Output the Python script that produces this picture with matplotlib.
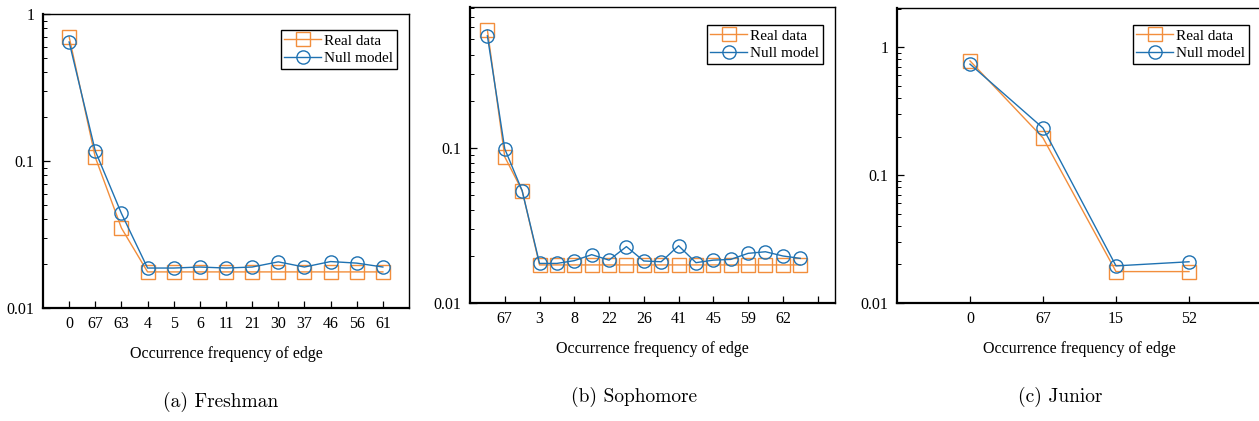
import numpy as np
import matplotlib
matplotlib.use('Agg')
import matplotlib.pyplot as plt
from matplotlib.ticker import LogLocator, NullFormatter, FixedLocator

# panel (a) Freshman
fresh_labels = ['0', '67', '63', '4', '5', '6', '11', '21', '30', '37', '46', '56', '61']
fresh_real = [0.70, 0.106, 0.035, 0.0176, 0.0176, 0.0176, 0.0176, 0.0176, 0.0176, 0.0176, 0.0176, 0.0176, 0.0176]
fresh_null = [0.645, 0.117, 0.044, 0.0187, 0.0187, 0.019, 0.0187, 0.019, 0.0206, 0.019, 0.0207, 0.0202, 0.019]

# panel (b) Sophomore (only every other tick is labelled)
soph_labels = ['67', '3', '8', '22', '26', '41', '45', '59', '62']
soph_real = [0.577, 0.0875, 0.053] + [0.0176] * 16
soph_null = [0.528, 0.0986, 0.053, 0.0180, 0.0180, 0.01875, 0.0205, 0.0189, 0.0231, 0.01866,
             0.01845, 0.0234, 0.0182, 0.0189, 0.0191, 0.0209, 0.0214, 0.0201, 0.0194]

# panel (c) Junior
jun_labels = ['0', '67', '15', '52']
jun_real = [0.78, 0.195, 0.0176, 0.0176]
jun_null = [0.736, 0.233, 0.0195, 0.021]

ORANGE = '#F28E3C'
BLUE = '#1F72B2'
SERIF = ['Liberation Serif', 'DejaVu Serif']

W, H = 1259, 421
fig = plt.figure(figsize=(W / 100, H / 100), dpi=100)


def px_axes(left, right, top, bottom):
    return fig.add_axes([left / W, 1 - bottom / H, (right - left) / W, (bottom - top) / H])


def style(ax, ylim, yticks, ylabels, leg_xy):
    ax.set_yscale('log')
    ax.set_ylim(*ylim)
    ax.yaxis.set_major_locator(FixedLocator(yticks))
    ax.set_yticklabels(ylabels, fontfamily=SERIF, fontsize=11.5)
    ax.yaxis.set_minor_locator(LogLocator(base=10, subs=np.arange(2, 10)))
    ax.yaxis.set_minor_formatter(NullFormatter())
    ax.tick_params(axis='both', which='major', direction='in', length=5, width=0.9,
                   top=False, right=False, pad=6)
    ax.tick_params(axis='y', which='minor', direction='in', length=3, width=0.7, right=False)
    for s in ax.spines.values():
        s.set_linewidth(1.0)
    ax.spines['bottom'].set_linewidth(1.6)
    ax.spines['left'].set_linewidth(1.6)
    ax.set_xlabel('Occurrence frequency of edge', fontfamily=SERIF, fontsize=11.5, labelpad=10)
    # legend anchored by its upper right corner, in pixels
    leg = ax.legend(loc='upper right', bbox_to_anchor=(leg_xy[0] / W, 1 - leg_xy[1] / H),
                    bbox_transform=fig.transFigure, prop={'family': SERIF, 'size': 11},
                    fancybox=False, framealpha=1, edgecolor='black', borderpad=0.25,
                    handlelength=2.4, handletextpad=0.2, labelspacing=0.25, borderaxespad=0)
    leg.get_frame().set_linewidth(1.0)


def draw(ax, x, real, null):
    ax.plot(x, real, color=ORANGE, lw=1.0, marker='s', ms=9.5, mfc='none', mew=1.0, label='Real data')
    ax.plot(x, null, color=BLUE, lw=1.0, marker='o', ms=9.5, mfc='none', mew=1.0, label='Null model')


# (a)
ax1 = px_axes(43, 409, 14, 308)
xa = np.arange(len(fresh_labels))
draw(ax1, xa, fresh_real, fresh_null)
ax1.set_xlim(-1, len(fresh_labels))
ax1.set_xticks(xa)
ax1.set_xticklabels(fresh_labels, fontfamily=SERIF, fontsize=11.5)
style(ax1, (0.01, 1), [0.01, 0.1, 1], ['0.01', '0.1', '1'], (397, 30))

# (b)
ax2 = px_axes(470, 835, 7, 303)
xb = np.arange(1, len(soph_real) + 1)
draw(ax2, xb, soph_real, soph_null)
ax2.set_xlim(0, 21)
ticks_b = np.arange(2, 21, 2)
ax2.set_xticks(ticks_b)
ax2.set_xticklabels(soph_labels + [''], fontfamily=SERIF, fontsize=11.5)
style(ax2, (0.01, 0.81), [0.01, 0.1], ['0.01', '0.1'], (823, 25))

# (c)
ax3 = px_axes(897, 1262, 8, 303)
xc = np.arange(len(jun_labels))
draw(ax3, xc, jun_real, jun_null)
ax3.set_xlim(-1, len(jun_labels))
ax3.set_xticks(xc)
ax3.set_xticklabels(jun_labels, fontfamily=SERIF, fontsize=11.5)
style(ax3, (0.01, 2.02), [0.01, 0.1, 1], ['0.01', '0.1', '1'], (1249, 25))

# sub-captions
for xc_px, yc_px, txt in [(221, 402, '(a) Freshman'), (634, 397, '(b) Sophomore'), (1060, 397, '(c) Junior')]:
    fig.text(xc_px / W, 1 - yc_px / H, txt, ha='center', va='center',
             fontfamily=['cmr10', 'DejaVu Serif'], fontsize=14)

fig.savefig('out.png', dpi=100)
